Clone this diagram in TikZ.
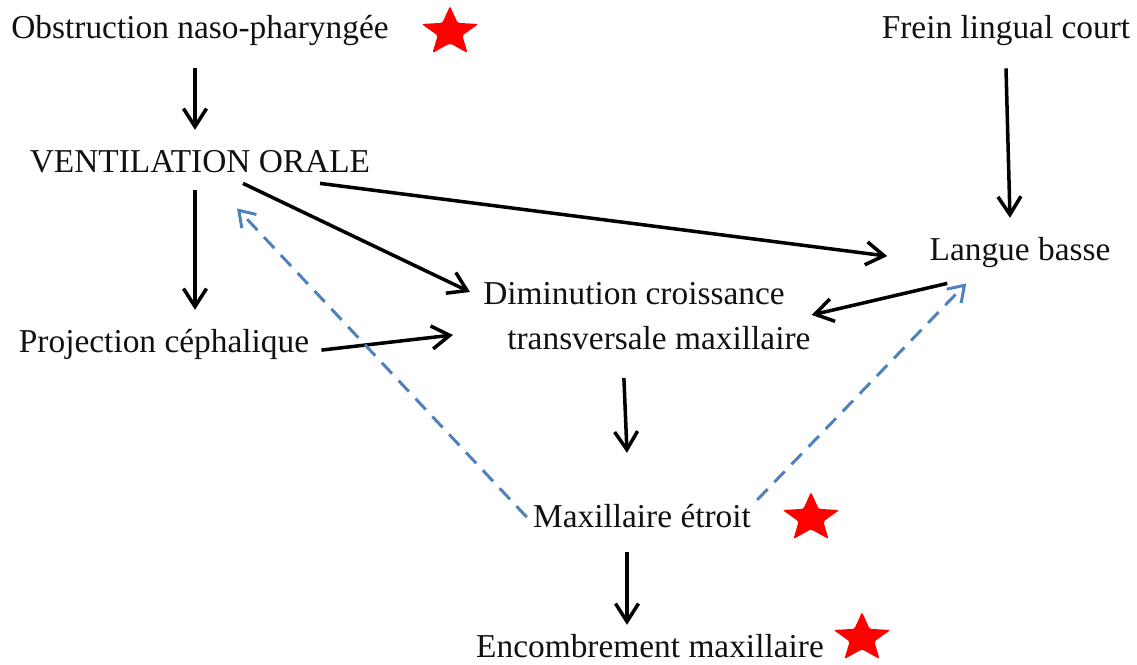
\documentclass[tikz,border=0pt]{standalone}
\usepackage{fontspec}
\setmainfont{Liberation Serif}
\newfontfamily\diagfont{Liberation Serif}
\usepackage{xcolor}
\usepackage{tikz}
\usetikzlibrary{positioning, shapes.geometric, arrows.meta}
\definecolor{dgBlue}{HTML}{4F81BD}
\definecolor{dgRed}{HTML}{FF0000}
\definecolor{dgInk}{HTML}{111111}
\tikzset{
  cause/.style={
    inner sep=0pt, anchor=base,
    text height=13pt, text depth=4pt,
    text=dgInk,
    font=\diagfont\fontsize{19}{25.5}\selectfont
  },
  causeblock/.style={
    inner sep=0pt, align=left,
    text=dgInk,
    font=\diagfont\fontsize{19}{25.5}\selectfont
  },
  arrow/.style={
    -{Straight Barb[length=3.6mm, width=4.6mm]},
    black, line width=2pt
  },
  looparrow/.style={
    -{Straight Barb[length=3mm, width=4mm]},
    dgBlue, line width=1.7pt,
    dash pattern=on 8.5pt off 5.5pt
  },
  redstar/.style={
    star, star points=5, star point ratio=2.3,
    fill=dgRed, draw=none, inner sep=0pt,
    minimum size=1.04cm, rounded corners=1.2pt,
    xscale=1.15
  }
}

\begin{document}
\begin{tikzpicture}[x=0.02cm, y=-0.02cm]
  \useasboundingbox (0,0) rectangle (1137,664);

  % causes
  \node[cause] (obs) at (200,38) {Obstruction naso-pharyngée};
  \node[cause] (frein) at (1006,38) {Frein lingual court};
  \node[cause] (vent) at (200,172) {VENTILATION ORALE};
  \node[cause] (langue) at (1020,260) {Langue basse};
  \node[cause] (proj) at (164,352) {Projection céphalique};
  \node[causeblock, anchor=north west] (dim) at (483,282)
    {Diminution croissance\\\hspace*{0.48cm}transversale maxillaire};
  \node[cause] (max) at (642,527) {Maxillaire étroit};
  \node[cause, text depth=0pt] (enc) at (650,657) {Encombrement maxillaire};

  % stars
  \node[redstar] (star1) at (450,32) {};
  \node[redstar] (star2) at (811,518) {};
  \node[redstar] (star3) at (862,638) {};

  % links
  \draw[arrow] ([shift={(-5,23)}]obs.south) -- ([shift={(-5,-19)}]vent.north);
  \draw[arrow] ([shift={(-5,11)}]vent.south) -- ([shift={(31,-19)}]proj.north);
  \draw[arrow] ([shift={(43,4)}]vent.south) -- ([shift={(-13,10)}]dim.north west);
  \draw[arrow] ([shift={(120,4)}]vent.south) -- ([shift={(-42,4)}]langue.west);
  \draw[arrow] ([shift={(0,23)}]frein.south) -- ([shift={(-10,-19)}]langue.north);
  \draw[arrow] ([shift={(18,16)}]langue.south west) -- ([shift={(1,-1)}]dim.east);
  \draw[arrow] ([shift={(12,6)}]proj.east) -- ([shift={(-30,19)}]dim.west);
  \draw[arrow] ([shift={(-23,28)}]dim.south) -- ([shift={(-15,-51)}]max.north);
  \draw[arrow] ([shift={(-15,18)}]max.south) -- ([shift={(-23,-9)}]enc.north);

  % feedback
  \draw[looparrow] ([shift={(-6,-2)}]max.west) -- ([shift={(37,29)}]vent.south);
  \draw[looparrow] ([shift={(6,-4)}]max.north east) -- ([shift={(37,16)}]langue.south west);
\end{tikzpicture}
\end{document}
